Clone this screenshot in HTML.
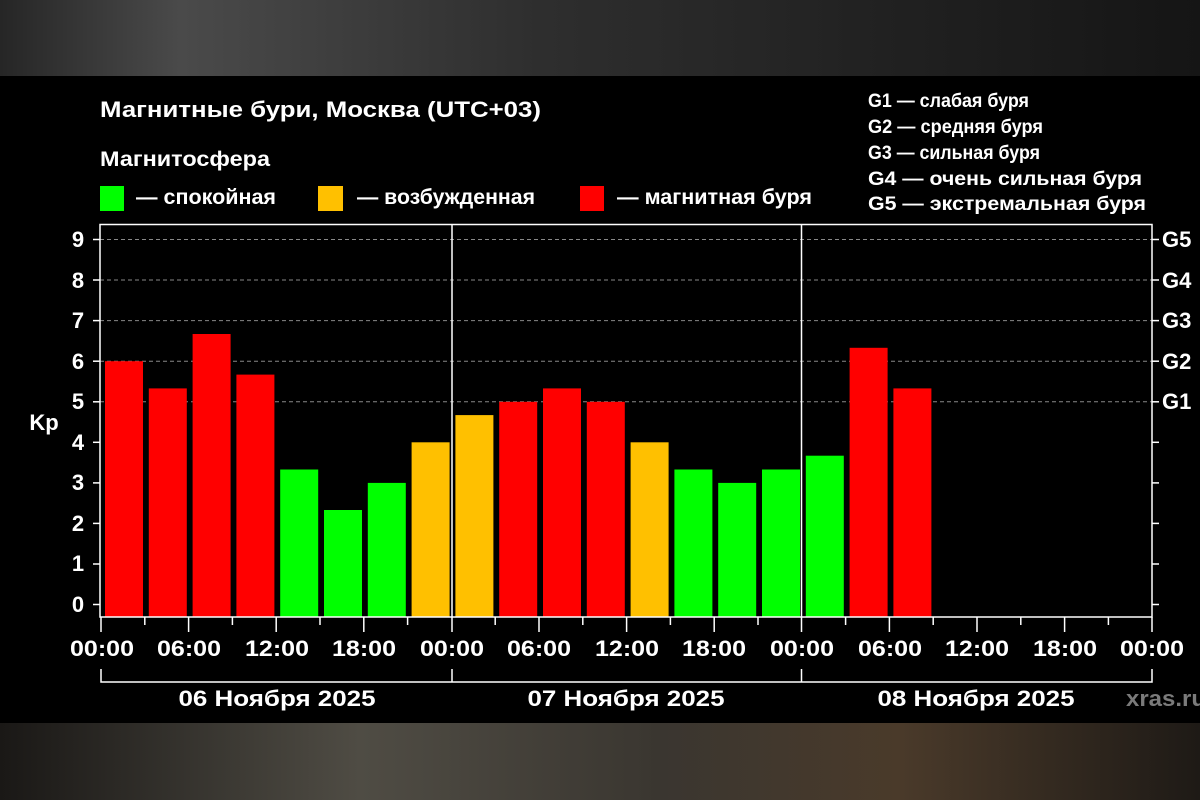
<!DOCTYPE html>
<html><head><meta charset="utf-8"><style>
html,body{margin:0;padding:0;width:1200px;height:800px;overflow:hidden;background:#000}
svg{display:block}
text{font-family:"Liberation Sans Narrow","Liberation Sans",sans-serif;font-weight:bold;fill:#fff}
</style></head><body>
<svg width="1200" height="800" viewBox="0 0 1200 800" xmlns="http://www.w3.org/2000/svg">
<defs>
<linearGradient id="tg" x1="0" y1="0" x2="1" y2="0">
<stop offset="0" stop-color="#262626"/><stop offset="0.15" stop-color="#4a4a4a"/><stop offset="0.45" stop-color="#2e2e2e"/><stop offset="1" stop-color="#151515"/></linearGradient>
<linearGradient id="bg" x1="0" y1="0" x2="1" y2="0">
<stop offset="0" stop-color="#1a1816"/><stop offset="0.3" stop-color="#4f4c44"/><stop offset="0.55" stop-color="#3a3630"/><stop offset="0.75" stop-color="#4a3a2a"/><stop offset="1" stop-color="#1e1a16"/></linearGradient>
</defs>
<rect x="0" y="0" width="1200" height="76" fill="url(#tg)"/>
<rect x="0" y="76" width="1200" height="647" fill="#000"/>
<rect x="0" y="723" width="1200" height="77" fill="url(#bg)"/>

<text x="100" y="117" font-size="22" textLength="441" lengthAdjust="spacingAndGlyphs">Магнитные бури, Москва (UTC+03)</text>
<text x="100" y="166" font-size="21" textLength="170" lengthAdjust="spacingAndGlyphs">Магнитосфера</text>
<rect x="100" y="186" width="24" height="25" fill="#00ff00"/>
<text x="136" y="204" font-size="21" textLength="140" lengthAdjust="spacingAndGlyphs">— спокойная</text>
<rect x="318" y="186" width="25" height="25" fill="#ffc000"/>
<text x="357" y="204" font-size="21" textLength="178" lengthAdjust="spacingAndGlyphs">— возбужденная</text>
<rect x="580" y="186" width="24" height="25" fill="#ff0000"/>
<text x="617" y="204" font-size="21" textLength="195" lengthAdjust="spacingAndGlyphs">— магнитная буря</text>

<g font-size="19">
<text x="868" y="107" textLength="161" lengthAdjust="spacingAndGlyphs">G1 — слабая буря</text>
<text x="868" y="133" textLength="175" lengthAdjust="spacingAndGlyphs">G2 — средняя буря</text>
<text x="868" y="159" textLength="172" lengthAdjust="spacingAndGlyphs">G3 — сильная буря</text>
<text x="868" y="185" textLength="274" lengthAdjust="spacingAndGlyphs">G4 — очень сильная буря</text>
<text x="868" y="210" textLength="278" lengthAdjust="spacingAndGlyphs">G5 — экстремальная буря</text>
</g>

<!-- grid -->
<g stroke="#888" stroke-width="1" stroke-dasharray="4,3">
<line x1="100" y1="239.5" x2="1152" y2="239.5"/>
<line x1="100" y1="280" x2="1152" y2="280"/>
<line x1="100" y1="320.6" x2="1152" y2="320.6"/>
<line x1="100" y1="361.2" x2="1152" y2="361.2"/>
<line x1="100" y1="401.8" x2="1152" y2="401.8"/>
</g>

<!-- bars -->
<g>
<rect x="105" y="361.2" width="38" height="255.8" fill="#ff0000"/>
<rect x="148.8" y="388.4" width="38" height="228.6" fill="#ff0000"/>
<rect x="192.6" y="334" width="38" height="283" fill="#ff0000"/>
<rect x="236.4" y="374.6" width="38" height="242.4" fill="#ff0000"/>
<rect x="280.2" y="469.5" width="38" height="147.5" fill="#00ff00"/>
<rect x="324" y="510" width="38" height="107" fill="#00ff00"/>
<rect x="367.8" y="482.9" width="38" height="134.1" fill="#00ff00"/>
<rect x="411.6" y="442.3" width="38" height="174.7" fill="#ffc000"/>
<rect x="455.4" y="415.1" width="38" height="201.9" fill="#ffc000"/>
<rect x="499.2" y="401.8" width="38" height="215.2" fill="#ff0000"/>
<rect x="543" y="388.4" width="38" height="228.6" fill="#ff0000"/>
<rect x="586.8" y="401.8" width="38" height="215.2" fill="#ff0000"/>
<rect x="630.6" y="442.3" width="38" height="174.7" fill="#ffc000"/>
<rect x="674.4" y="469.5" width="38" height="147.5" fill="#00ff00"/>
<rect x="718.2" y="482.9" width="38" height="134.1" fill="#00ff00"/>
<rect x="762" y="469.5" width="38" height="147.5" fill="#00ff00"/>
<rect x="805.8" y="455.7" width="38" height="161.3" fill="#00ff00"/>
<rect x="849.6" y="347.8" width="38" height="269.2" fill="#ff0000"/>
<rect x="893.4" y="388.4" width="38" height="228.6" fill="#ff0000"/>
</g>

<!-- frame -->
<g stroke="#fff" stroke-width="1.5" fill="none">
<rect x="100" y="224.5" width="1052" height="392.5"/>
<line x1="452" y1="224.5" x2="452" y2="617"/>
<line x1="801.5" y1="224.5" x2="801.5" y2="617"/>
</g>
<!-- y ticks -->
<g stroke="#fff" stroke-width="1.5">
<line x1="93" y1="239.5" x2="100" y2="239.5"/><line x1="93" y1="280" x2="100" y2="280"/><line x1="93" y1="320.6" x2="100" y2="320.6"/><line x1="93" y1="361.2" x2="100" y2="361.2"/><line x1="93" y1="401.8" x2="100" y2="401.8"/><line x1="93" y1="442.3" x2="100" y2="442.3"/><line x1="93" y1="482.9" x2="100" y2="482.9"/><line x1="93" y1="523.4" x2="100" y2="523.4"/><line x1="93" y1="564" x2="100" y2="564"/><line x1="93" y1="604.5" x2="100" y2="604.5"/>
<line x1="1152" y1="239.5" x2="1159" y2="239.5"/><line x1="1152" y1="280" x2="1159" y2="280"/><line x1="1152" y1="320.6" x2="1159" y2="320.6"/><line x1="1152" y1="361.2" x2="1159" y2="361.2"/><line x1="1152" y1="401.8" x2="1159" y2="401.8"/><line x1="1152" y1="442.3" x2="1159" y2="442.3"/><line x1="1152" y1="482.9" x2="1159" y2="482.9"/><line x1="1152" y1="523.4" x2="1159" y2="523.4"/><line x1="1152" y1="564" x2="1159" y2="564"/><line x1="1152" y1="604.5" x2="1159" y2="604.5"/>
</g>
<g font-size="22" text-anchor="middle">
<text x="78" y="247">9</text><text x="78" y="288">8</text><text x="78" y="328">7</text><text x="78" y="369">6</text><text x="78" y="409">5</text><text x="78" y="450">4</text><text x="78" y="490">3</text><text x="78" y="531">2</text><text x="78" y="571">1</text><text x="78" y="612">0</text>
<text x="44" y="430">Kp</text>
</g>
<g font-size="22">
<text x="1162" y="247">G5</text><text x="1162" y="288">G4</text><text x="1162" y="328">G3</text><text x="1162" y="369">G2</text><text x="1162" y="409">G1</text>
</g>

<!-- x ticks -->
<g stroke="#fff" stroke-width="1.5">
<line x1="101" y1="617" x2="101" y2="632"/><line x1="144.8" y1="617" x2="144.8" y2="625"/>
<line x1="188.6" y1="617" x2="188.6" y2="632"/><line x1="232.4" y1="617" x2="232.4" y2="625"/>
<line x1="276.2" y1="617" x2="276.2" y2="632"/><line x1="320" y1="617" x2="320" y2="625"/>
<line x1="363.8" y1="617" x2="363.8" y2="632"/><line x1="407.6" y1="617" x2="407.6" y2="625"/>
<line x1="452" y1="617" x2="452" y2="632"/><line x1="495.2" y1="617" x2="495.2" y2="625"/>
<line x1="539" y1="617" x2="539" y2="632"/><line x1="582.8" y1="617" x2="582.8" y2="625"/>
<line x1="626.6" y1="617" x2="626.6" y2="632"/><line x1="670.4" y1="617" x2="670.4" y2="625"/>
<line x1="714.2" y1="617" x2="714.2" y2="632"/><line x1="758" y1="617" x2="758" y2="625"/>
<line x1="801.5" y1="617" x2="801.5" y2="632"/><line x1="845.6" y1="617" x2="845.6" y2="625"/>
<line x1="889.4" y1="617" x2="889.4" y2="632"/><line x1="933.2" y1="617" x2="933.2" y2="625"/>
<line x1="977" y1="617" x2="977" y2="632"/><line x1="1020.8" y1="617" x2="1020.8" y2="625"/>
<line x1="1064.6" y1="617" x2="1064.6" y2="632"/><line x1="1108.4" y1="617" x2="1108.4" y2="625"/>
<line x1="1152" y1="617" x2="1152" y2="632"/>
<polyline fill="none" points="101,669 101,682 1152,682 1152,669"/>
<line x1="452" y1="669" x2="452" y2="682"/><line x1="801.5" y1="669" x2="801.5" y2="682"/>
</g>
<g font-size="22" text-anchor="middle">
<text x="102" y="656" textLength="64" lengthAdjust="spacingAndGlyphs">00:00</text>
<text x="189" y="656" textLength="64" lengthAdjust="spacingAndGlyphs">06:00</text>
<text x="277" y="656" textLength="64" lengthAdjust="spacingAndGlyphs">12:00</text>
<text x="364" y="656" textLength="64" lengthAdjust="spacingAndGlyphs">18:00</text>
<text x="452" y="656" textLength="64" lengthAdjust="spacingAndGlyphs">00:00</text>
<text x="539" y="656" textLength="64" lengthAdjust="spacingAndGlyphs">06:00</text>
<text x="627" y="656" textLength="64" lengthAdjust="spacingAndGlyphs">12:00</text>
<text x="714" y="656" textLength="64" lengthAdjust="spacingAndGlyphs">18:00</text>
<text x="802" y="656" textLength="64" lengthAdjust="spacingAndGlyphs">00:00</text>
<text x="890" y="656" textLength="64" lengthAdjust="spacingAndGlyphs">06:00</text>
<text x="977" y="656" textLength="64" lengthAdjust="spacingAndGlyphs">12:00</text>
<text x="1065" y="656" textLength="64" lengthAdjust="spacingAndGlyphs">18:00</text>
<text x="1152" y="656" textLength="64" lengthAdjust="spacingAndGlyphs">00:00</text>
<text x="277" y="706" textLength="197" lengthAdjust="spacingAndGlyphs">06 Ноября 2025</text>
<text x="626" y="706" textLength="197" lengthAdjust="spacingAndGlyphs">07 Ноября 2025</text>
<text x="976" y="706" textLength="197" lengthAdjust="spacingAndGlyphs">08 Ноября 2025</text>
</g>
<text x="1126" y="706" font-size="22" style="fill:#7a7a7a" textLength="80" lengthAdjust="spacingAndGlyphs">xras.ru</text>
</svg>
</body></html>
